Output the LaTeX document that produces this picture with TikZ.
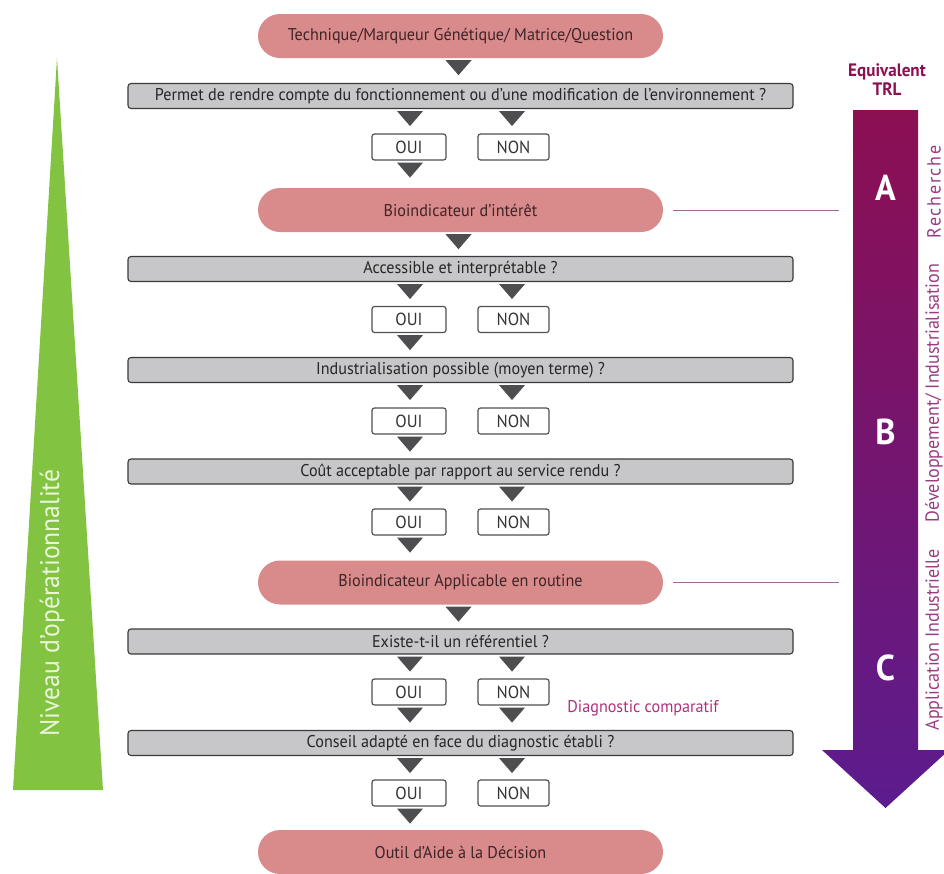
\documentclass[tikz,border=0pt]{standalone}
\usepackage{fontspec}
\setmainfont{PT Sans}[FakeStretch=0.95]
\usetikzlibrary{calc}

\definecolor{pillpink}{HTML}{D98B8C}
\definecolor{pilltext}{HTML}{3E2426}
\definecolor{barfill}{HTML}{C7C7C9}
\definecolor{barline}{HTML}{3A3A3A}
\definecolor{tridark}{HTML}{4E4E50}
\definecolor{boxline}{HTML}{505050}
\definecolor{leafgreen}{HTML}{82C341}
\definecolor{leaftext}{HTML}{EAF6D8}
\definecolor{trltop}{HTML}{8C0F52}
\definecolor{trlmid}{HTML}{7A1472}
\definecolor{trlbot}{HTML}{5C1C8E}
\definecolor{trllabel}{HTML}{9A3C82}
\definecolor{trlline}{HTML}{A06A98}
\definecolor{diagpink}{HTML}{B0307A}

\newcommand\dtri[1]{\fill[tridark] (#1) ++(-13,0) -- ++(26,0) -- ++(-13,15) -- cycle;}

\tikzset{
  pill/.style={fill=pillpink, rounded corners=22pt, minimum width=405pt,
    minimum height=44pt, inner sep=0pt, text=pilltext,
    font=\fontsize{17}{19}\selectfont},
  qbar/.style={fill=barfill, draw=barline, line width=1.1pt, rounded corners=3pt,
    minimum width=665pt, minimum height=25pt, inner sep=0pt, text=black!85,
    font=\fontsize{17}{19}\selectfont},
  ansbox/.style={fill=white, draw=boxline, line width=1.2pt, rounded corners=2.5pt,
    minimum height=26pt, inner sep=0pt, text=black!80,
    font=\fontsize{17.5}{19}\selectfont},
  ouibox/.style={ansbox, minimum width=74pt},
  nonbox/.style={ansbox, minimum width=71pt},
  sidelabel/.style={rotate=90, text=trllabel, font=\fontsize{19}{21}\selectfont},
  stage/.style={text=white, font=\fontsize{36}{40}\selectfont\bfseries},
  levelline/.style={draw=trlline, line width=1pt},
}

\begin{document}
\begin{tikzpicture}[x=1pt, y=-1pt]
\useasboundingbox (0,0) rectangle (944,873);

% operational level wedge
\fill[leafgreen] (57,58) -- (103,790) -- (13,790) -- cycle;
\node[rotate=90, text=leaftext, font=\fontsize{27}{30}\selectfont] (niv) at (52,603)
  {Niveau d'opérationnalité};

% TRL arrow
\shade[top color=trltop, middle color=trlmid, bottom color=trlbot]
  (853,110) -- (918,110) -- (918,750) -- (949,750) -- (885.5,808)
  -- (822,750) -- (853,750) -- cycle;
\node[text=trltop, font=\fontsize{18}{20}\selectfont\bfseries, align=center,
  inner sep=0pt] (trl) at (887,80) {Equivalent\\[-1pt]TRL};
\node[stage] (sa) at (885.5,188) {A};
\node[stage] (sb) at (885.5,432) {B};
\node[stage] (sc) at (885.5,668) {C};
\node[sidelabel] (lr) at (934,192) {\addfontfeatures{LetterSpace=9}Recherche};
\node[sidelabel] (ld) at (934,393) {Développement/ Industrialisation};
\node[sidelabel] (la) at (934,640) {Application Industrielle};

% flow chart
\node[pill] (p1) at (460.5,36) {Technique/Marqueur Génétique/ Matrice/Question};
\node[qbar] (q1) at (460.5,96) {Permet de rendre compte du fonctionnement ou d'une modification de l'environnement ?};
\node[ouibox] (o1) at (409,147) {OUI};
\node[nonbox] (n1) at (513.5,147) {NON};
\node[pill] (p2) at (460.5,210) {Bioindicateur d'intérêt};
\node[qbar] (q2) at (460.5,269) {Accessible et interprétable ?};
\node[ouibox] (o2) at (409,319.5) {OUI};
\node[nonbox] (n2) at (513.5,319.5) {NON};
\node[qbar] (q3) at (460.5,370) {Industrialisation possible (moyen terme) ?};
\node[ouibox] (o3) at (409,421) {OUI};
\node[nonbox] (n3) at (513.5,421) {NON};
\node[qbar] (q4) at (460.5,471.5) {Coût acceptable par rapport au service rendu ?};
\node[ouibox] (o4) at (409,522) {OUI};
\node[nonbox] (n4) at (513.5,522) {NON};
\node[pill] (p3) at (460.5,582.5) {Bioindicateur Applicable en routine};
\node[qbar] (q5) at (460.5,641.5) {Existe-t-il un référentiel ?};
\node[ouibox] (o5) at (409,692) {OUI};
\node[nonbox] (n5) at (513.5,692) {NON};
\node[text=diagpink, font=\fontsize{17}{19}\selectfont] (dc) at (643,708) {Diagnostic comparatif};
\node[qbar] (q6) at (460.5,743) {Conseil adapté en face du diagnostic établi ?};
\node[ouibox] (o6) at (409,793) {OUI};
\node[nonbox] (n6) at (513.5,793) {NON};
\node[pill] (p4) at (460.5,852) {Outil d'Aide à la Décision};

% level markers towards the TRL arrow
\coordinate (m2) at (839,210);
\coordinate (m3) at (839,582.5);
\draw[levelline] ($(p2.east)+(10,0)$) -- (m2);
\draw[levelline] ($(p3.east)+(10,0)$) -- (m3);

% flow triangles
\dtri{$(p1.south)+(-2,2)$}
\dtri{$(q1.south -| o1)+(1,2)$}
\dtri{$(q1.south -| n1)+(-1.5,2)$}
\dtri{$(o1.south)+(1,2)$}
\dtri{$(p2.south)+(-2,2)$}
\dtri{$(q2.south -| o2)+(1,2)$}
\dtri{$(q2.south -| n2)+(-1.5,2)$}
\dtri{$(o2.south)+(1,2)$}
\dtri{$(q3.south -| o3)+(1,2)$}
\dtri{$(q3.south -| n3)+(-1.5,2)$}
\dtri{$(o3.south)+(1,2)$}
\dtri{$(q4.south -| o4)+(1,2)$}
\dtri{$(q4.south -| n4)+(-1.5,2)$}
\dtri{$(o4.south)+(1,2)$}
\dtri{$(p3.south)+(-2,2)$}
\dtri{$(q5.south -| o5)+(1,2)$}
\dtri{$(q5.south -| n5)+(-1.5,2)$}
\dtri{$(o5.south)+(1,2)$}
\dtri{$(n5.south)+(-1.5,2)$}
\dtri{$(q6.south -| o6)+(1,2)$}
\dtri{$(q6.south -| n6)+(-1.5,2)$}
\dtri{$(o6.south)+(1,2)$}
\end{tikzpicture}
\end{document}
